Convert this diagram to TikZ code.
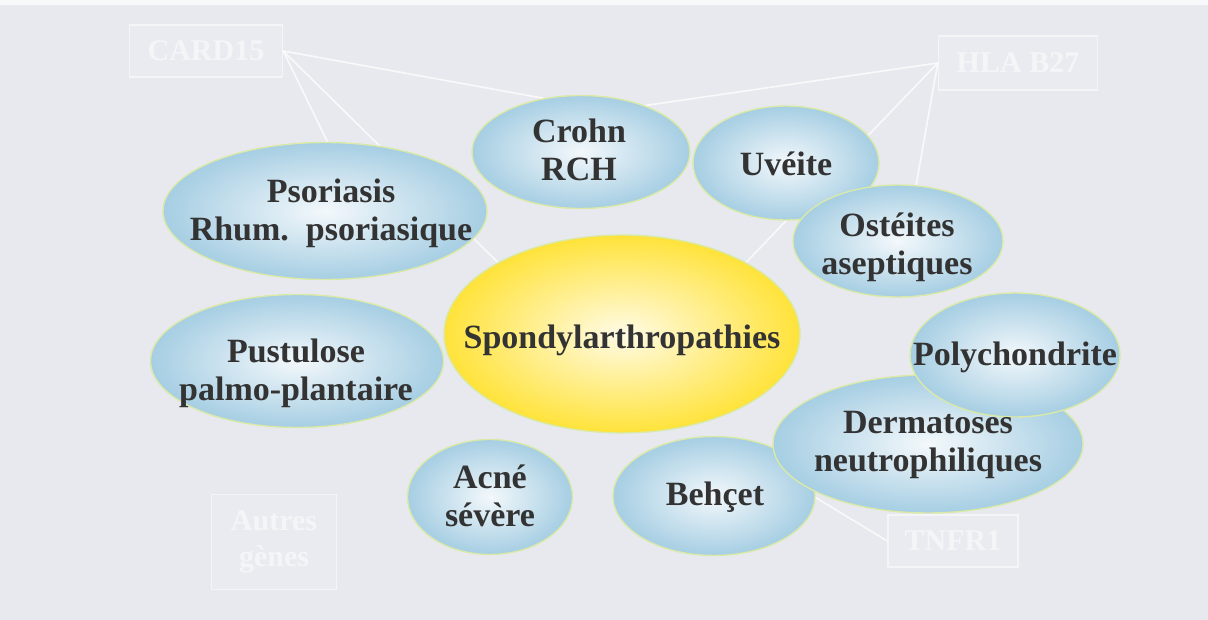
\documentclass[tikz,border=0pt]{standalone}
\usepackage{fontspec}
\setmainfont{Liberation Serif}
\usetikzlibrary{shapes.geometric}
\pgfdeclarelayer{bglayer}
\pgfsetlayers{bglayer,main}
\definecolor{bg}{HTML}{E8E9EF}
\definecolor{blueedge}{HTML}{A6CEE3}
\definecolor{bluecenter}{HTML}{F3F8FB}
\definecolor{yedge}{HTML}{FFE33A}
\definecolor{ycenter}{HTML}{FFFBE6}
\definecolor{rim}{HTML}{D9E9A8}
\definecolor{txt}{HTML}{333333}
\tikzset{
  bubble/.style={ellipse, draw=rim, line width=1.4pt, inner sep=0pt, shading=radial, inner color=bluecenter, outer color=blueedge},
  core/.style={bubble, inner color=ycenter, outer color=yedge},
  lbl/.style={text=txt, font=\bfseries\fontsize{34}{38}\selectfont, align=center, inner sep=0pt},
  gene/.style={draw=white, draw opacity=0.55, fill=white, fill opacity=0.12, text=white, text opacity=0.55, line width=1.5pt, font=\bfseries\fontsize{30}{36}\selectfont, align=center, inner sep=0pt},
  link/.style={draw=white, line width=1.6pt, draw opacity=0.75},
}
\begin{document}
\begin{tikzpicture}[x=1pt,y=-1pt]
\useasboundingbox (0,0) rectangle (1208,620);
\begin{pgfonlayer}{bglayer}
  \fill[bg] (0,0) rectangle (1208,620);
  \fill[white!70!bg] (0,0) rectangle (1208,5);
\end{pgfonlayer}

% gene boxes
\node[gene, minimum width=153pt, minimum height=52pt] (card) at (206,51) {CARD15};
\node[gene, minimum width=159pt, minimum height=54pt] (hla) at (1018,63) {HLA B27};
\node[gene, minimum width=125pt, minimum height=95pt] (autres) at (274,542) {Autres\\gènes};
\node[gene, minimum width=130pt, minimum height=52pt] (tnf) at (953,541) {TNFR1};

% ellipses
\node[bubble, minimum width=324pt, minimum height=137pt] (pso) at (325,211) {};
\node[bubble, minimum width=218pt, minimum height=113pt] (crohn) at (581,152) {};
\node[bubble, minimum width=186pt, minimum height=114pt] (uv) at (786,163) {};
\node[bubble, minimum width=210pt, minimum height=112pt] (ost) at (898,241) {};
\node[bubble, minimum width=293pt, minimum height=133pt] (pus) at (297,361) {};
\node[core, minimum width=356pt, minimum height=198pt] (spondy) at (622,334) {};
\node[bubble, minimum width=165pt, minimum height=115pt] (acne) at (490,497) {};
\node[bubble, minimum width=202pt, minimum height=119pt] (beh) at (714,496) {};
\node[bubble, minimum width=310pt, minimum height=138pt] (derm) at (928,444) {};
\node[bubble, minimum width=210pt, minimum height=124pt] (poly) at (1015,355) {};

% connectors behind
\begin{pgfonlayer}{bglayer}
  \draw[link] (card.east) -- (crohn.125);
  \draw[link] (card.east) -- (pso.88);
  \draw[link] (card.east) -- (spondy.150);
  \draw[link] (hla.west) -- (crohn.36);
  \draw[link] (hla.west) -- (spondy.30);
  \draw[link] (hla.west) -- (ost.72);
  \draw[link] (tnf.west) -- (beh.north);
\end{pgfonlayer}

% labels
\node[lbl] (psoT) at (331,213) {Psoriasis\\Rhum.\ \ psoriasique};
\node[lbl] (crohnT) at (579,150) {Crohn\\RCH};
\node[lbl] (uvT) at (786,164) {Uvéite};
\node[lbl] (ostT) at (897,247) {Ostéites\\aseptiques};
\node[lbl] (pusT) at (296,373) {Pustulose\\palmo-plantaire};
\node[lbl] (spondyT) at (622,340) {Spondylarthropathies};
\node[lbl] (acneT) at (490,496) {Acné\\sévère};
\node[lbl] (behT) at (715,497) {Behçet};
\node[lbl] (dermT) at (928,445) {Dermatoses\\neutrophiliques};
\node[lbl] (polyT) at (1015,357) {Polychondrite};
\end{tikzpicture}
\end{document}
